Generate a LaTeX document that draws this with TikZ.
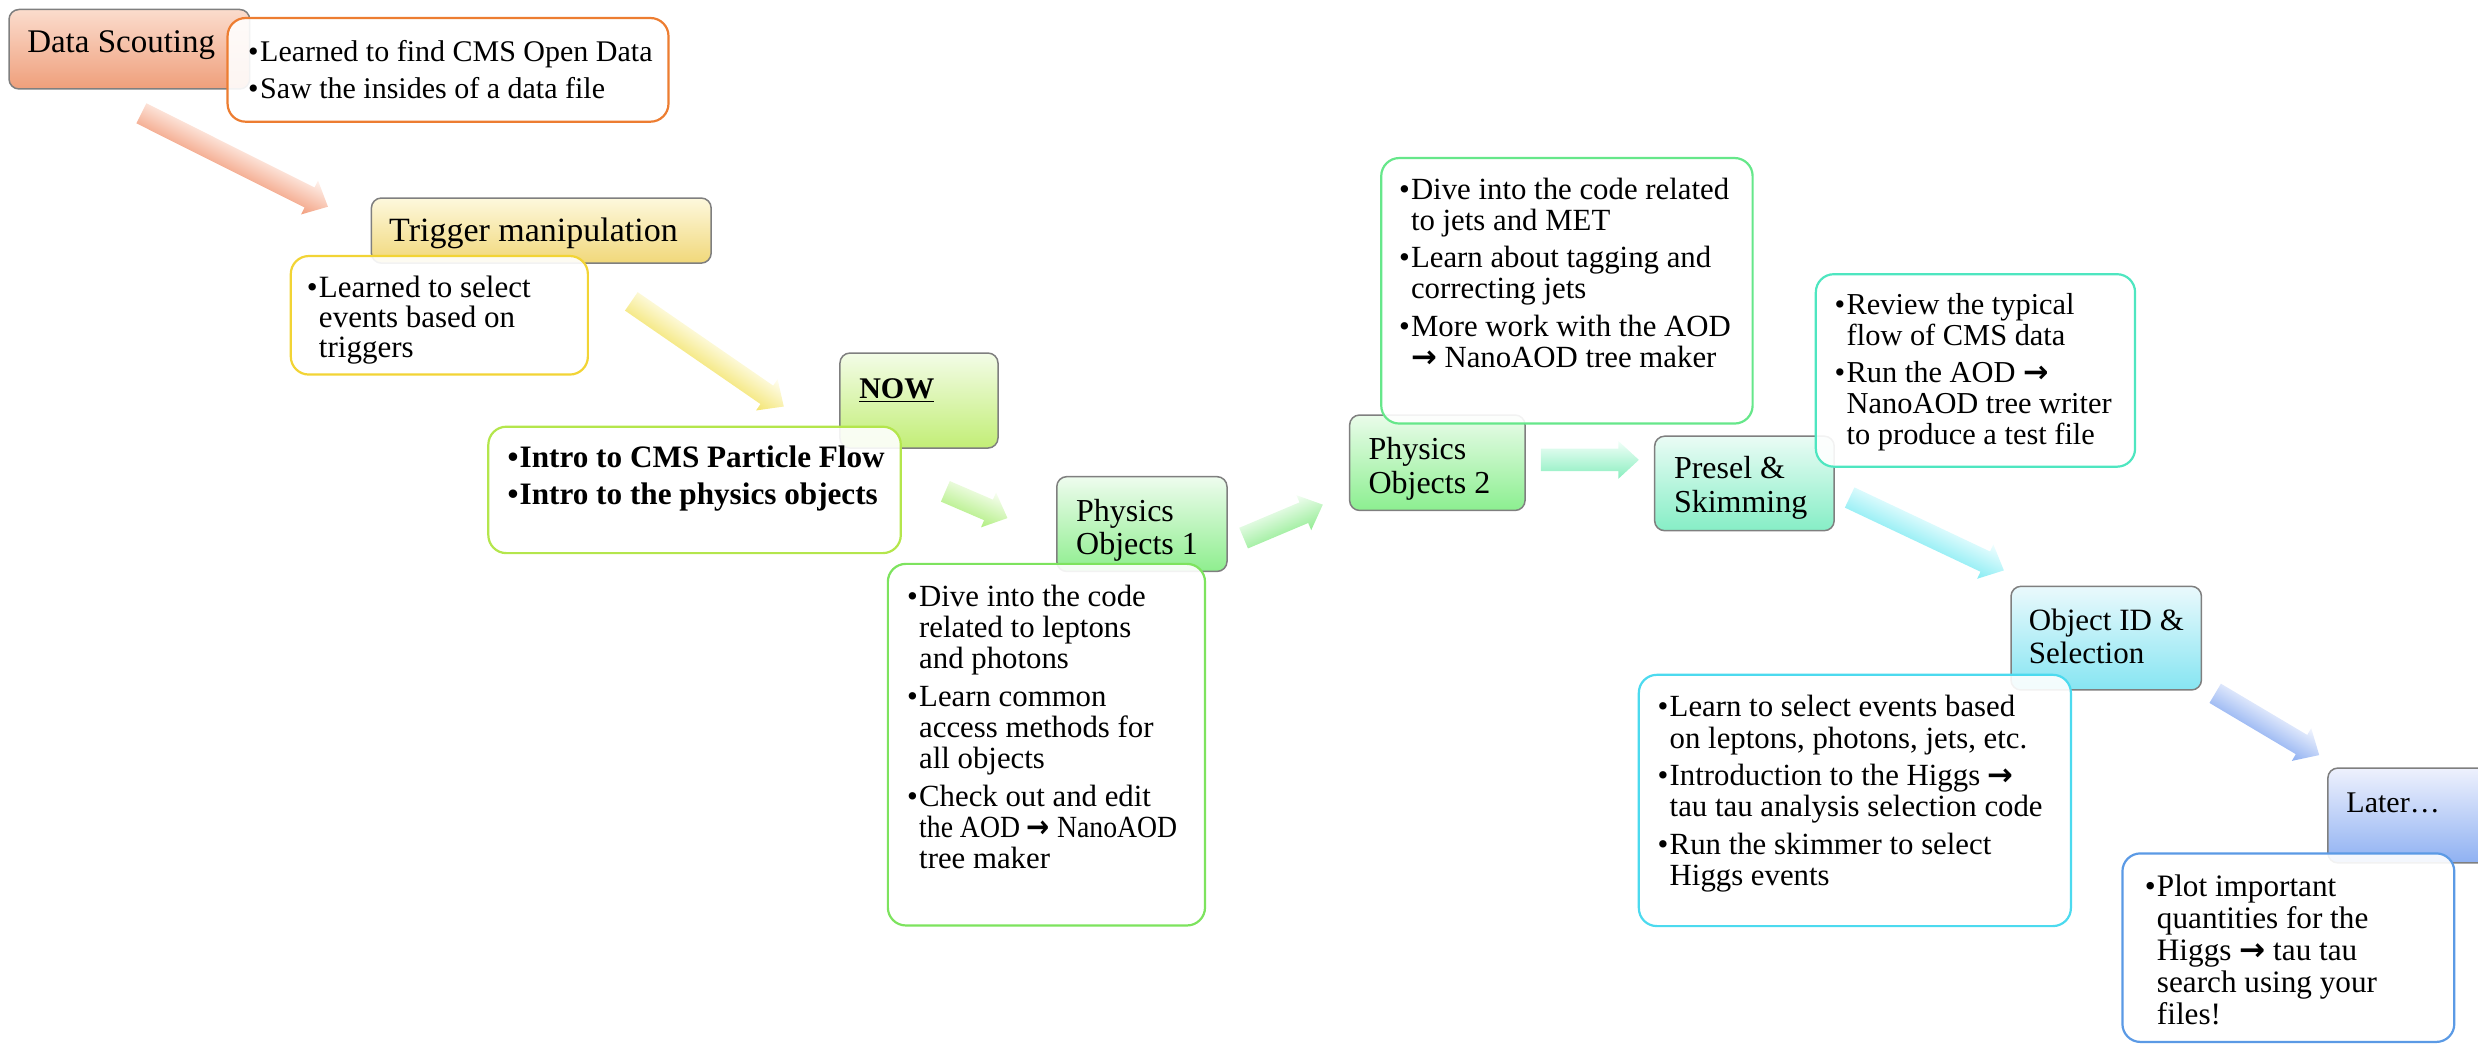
\documentclass[tikz,border=0pt]{standalone}
\usepackage{fontspec}
\setmainfont{Liberation Serif}
\newfontfamily\arrowfont{DejaVu Sans}
\usetikzlibrary{calc,fit}

\definecolor{tbord}{HTML}{7F7F7F}
\definecolor{dsTL}{HTML}{FBDCCD}\definecolor{dsTD}{HTML}{EF9F7B}\definecolor{dsBd}{HTML}{ED7D31}
\definecolor{trTL}{HTML}{FDF8DD}\definecolor{trTD}{HTML}{F1D87A}\definecolor{trBd}{HTML}{F2D435}
\definecolor{nwTL}{HTML}{F3FCE7}\definecolor{nwTD}{HTML}{C2EE76}\definecolor{nwBd}{HTML}{B4E64C}
\definecolor{pOTL}{HTML}{EEFCEE}\definecolor{pOTD}{HTML}{8EEE8E}\definecolor{pOBd}{HTML}{7DE35E}
\definecolor{pTTL}{HTML}{EAFCEA}\definecolor{pTTD}{HTML}{8CEF90}\definecolor{pTBd}{HTML}{66E78A}
\definecolor{psTL}{HTML}{EAFCF5}\definecolor{psTD}{HTML}{86EEC6}\definecolor{psBd}{HTML}{4EE6C0}
\definecolor{oiTL}{HTML}{EAF9FC}\definecolor{oiTD}{HTML}{86E5F2}\definecolor{oiBd}{HTML}{4CDAEF}
\definecolor{ltTL}{HTML}{EEF1FD}\definecolor{ltTD}{HTML}{8FB1F2}\definecolor{ltBd}{HTML}{5B9AE5}
\definecolor{aAL}{HTML}{FFF3EE}\definecolor{aAD}{HTML}{F29E7E}
\definecolor{aBL}{HTML}{FFFEF2}\definecolor{aBD}{HTML}{F3E46E}
\definecolor{aCL}{HTML}{F8FEF2}\definecolor{aCD}{HTML}{B0EE80}
\definecolor{aDL}{HTML}{F4FEF4}\definecolor{aDD}{HTML}{92EC92}
\definecolor{aEL}{HTML}{F2FFF9}\definecolor{aED}{HTML}{88EEBE}
\definecolor{aFL}{HTML}{F0FEFF}\definecolor{aFD}{HTML}{86ECF3}
\definecolor{aGL}{HTML}{F2F5FE}\definecolor{aGD}{HTML}{8CAEF1}

\newlength\bw \setlength\bw{6pt}
\newcommand\bul{\makebox[\bw][l]{•}}
\newcommand\ind{\hspace*{\bw}}
\newcommand\rarr{{\arrowfont\bfseries →}}
\def\shw{5.6pt}
\def\hhw{9.5pt}
\def\hl{10.3}
% #1 start coordinate, #2 canvas angle, #3 length in pt, #4 light colour, #5 dark colour
\newcommand\blockarrow[5]{%
  \pgfmathsetmacro\Lb{#3-\hl}%
  \begin{scope}[transform canvas={shift={(#1)}, rotate=#2}]
    \shade[top color=#4, bottom color=#5]
      (0pt,-\shw) -- (\Lb pt,-\shw) -- (\Lb pt,-\hhw) -- (#3pt,0pt)
      -- (\Lb pt,\hhw) -- (\Lb pt,\shw) -- (0pt,\shw) -- cycle;
  \end{scope}%
}

\begin{document}
\begin{tikzpicture}[x=0.7902pt,y=-0.7902pt,
  txt/.style={anchor=base west, inner sep=0pt},
  titlebox/.style={draw=tbord, line width=0.75pt, rounded corners=5pt, inner sep=0pt},
  bodybox/.style={line width=1.1pt, rounded corners=9pt, fill=white, fill opacity=0.9, inner sep=0pt}]
\useasboundingbox (0,0) rectangle (1568,660);
\clip (0,0) rectangle (1568,660);

% ---------- arrows ----------
\coordinate (a1s) at (89.5,71.7);
\coordinate (a2s) at (399.5,190.7);
\coordinate (a3s) at (598.2,310.9);
\coordinate (a4s) at (786.9,340.5);
\coordinate (a5s) at (975,291);
\coordinate (a6s) at (1170.4,314.8);
\coordinate (a7s) at (1401.7,438.7);
\blockarrow{a1s}{-26.6}{104.3}{aAL}{aAD}
\blockarrow{a2s}{-34.6}{92.6}{aBL}{aBD}
\blockarrow{a3s}{-23.3}{33.8}{aCL}{aCD}
\blockarrow{a4s}{22.9}{43.0}{aDL}{aDD}
\blockarrow{a5s}{0}{49.0}{aEL}{aED}
\blockarrow{a6s}{-25.3}{85.3}{aFL}{aFD}
\blockarrow{a7s}{-30.7}{60.5}{aGL}{aGD}

% ---------- Data Scouting ----------
\node[titlebox, top color=dsTL, bottom color=dsTD, fit={(5.7,6) (158,56.3)}] (dsT) {};
\node[txt] (dsTt) at (17,33.5) {\fontsize{16.5}{19}\selectfont Data Scouting};
\node[bodybox, draw=dsBd, fit={(144,11.4) (423,77)}] (dsB) {};
\node[txt] (dsBt) at (156.8,39) {\parbox[t]{400pt}{\fontsize{15}{18.2}\selectfont
  \bul Learned to find CMS Open Data\\
  \bul Saw the insides of a data file}};

% ---------- Trigger manipulation ----------
\node[titlebox, top color=trTL, bottom color=trTD, fit={(235,125.3) (450,166.5)}] (trT) {};
\node[txt] (trTt) at (246,153) {\fontsize{17}{19}\selectfont Trigger manipulation};
\node[bodybox, draw=trBd, fit={(184,162) (372,237)}] (trB) {};
\node[txt] (trBt) at (194,188) {\parbox[t]{400pt}{\fontsize{15.5}{15.1}\selectfont
  \bul Learned to select\\
  \ind events based on\\
  \ind triggers}};

% ---------- NOW ----------
\node[titlebox, top color=nwTL, bottom color=nwTD, fit={(531.5,223.4) (631.5,283.5)}] (nwT) {};
\node[txt] (nwTt) at (543.5,252) {\fontsize{15}{18}\selectfont\bfseries\underline{NOW}};
\node[bodybox, draw=nwBd, fit={(309,270) (570,350)}] (nwB) {};
\node[txt] (nwBt) at (321,295.5) {\parbox[t]{400pt}{\fontsize{15.6}{18.6}\selectfont\bfseries
  \bul Intro to CMS Particle Flow\\
  \bul Intro to the physics objects}};

% ---------- Physics Objects 1 ----------
\node[titlebox, top color=pOTL, bottom color=pOTD, fit={(668.7,301.6) (776.4,361.6)}] (p1T) {};
\node[txt] (p1Tt) at (680.7,329.7) {\parbox[t]{200pt}{\fontsize{16}{16.6}\selectfont
  Physics\\Objects 1}};
\node[bodybox, draw=pOBd, fit={(561.8,356.8) (762.5,585.6)}] (p1B) {};
\node[txt] (p1Bt) at (573.8,383.5) {\parbox[t]{400pt}{\fontsize{15.4}{15.7}\selectfont
  \bul Dive into the code\\
  \ind related to leptons\\
  \ind and photons\\[2.9pt]
  \bul Learn common\\
  \ind access methods for\\
  \ind all objects\\[2.9pt]
  \bul Check out and edit\\
  \ind\scalebox{0.9}[1]{the AOD \rarr{} NanoAOD}\\
  \ind tree maker}};

% ---------- Physics Objects 2 ----------
\node[titlebox, top color=pTTL, bottom color=pTTD, fit={(854,262.6) (965,323)}] (p2T) {};
\node[bodybox, draw=pTBd, fit={(874,100) (1109,268)}] (p2B) {};
\node[txt] (p2Tt) at (865.7,290.6) {\parbox[t]{200pt}{\fontsize{16}{16.9}\selectfont
  Physics\\Objects 2}};
\node[txt] (p2Bt) at (885,126) {\parbox[t]{400pt}{\fontsize{15.4}{15.6}\selectfont
  \bul Dive into the code related\\
  \ind to jets and MET\\[3.1pt]
  \bul Learn about tagging and\\
  \ind correcting jets\\[3.1pt]
  \bul More work with the AOD\\
  \ind\rarr{} NanoAOD tree maker}};

% ---------- Presel & Skimming ----------
\node[titlebox, top color=psTL, bottom color=psTD, fit={(1047,276) (1160.6,335.8)}] (psT) {};
\node[txt] (psTt) at (1059,302.6) {\parbox[t]{200pt}{\fontsize{16}{17.2}\selectfont
  Presel \&\\Skimming}};
\node[bodybox, draw=psBd, fit={(1149,173.5) (1351,295.3)}] (psB) {};
\node[txt] (psBt) at (1160.7,198.7) {\parbox[t]{400pt}{\fontsize{15.2}{15.5}\selectfont
  \bul Review the typical\\
  \ind flow of CMS data\\[3.1pt]
  \bul Run the AOD \rarr\\
  \ind NanoAOD tree writer\\
  \ind to produce a test file}};

% ---------- Object ID & Selection ----------
\node[titlebox, top color=oiTL, bottom color=oiTD, fit={(1272.5,371) (1393,436.6)}] (oiT) {};
\node[txt] (oiTt) at (1283.6,399) {\parbox[t]{200pt}{\fontsize{15.5}{16.6}\selectfont
  Object ID \&\\Selection}};
\node[bodybox, draw=oiBd, fit={(1037,427) (1310.4,586)}] (oiB) {};
\node[txt] (oiBt) at (1048.7,453.5) {\parbox[t]{400pt}{\fontsize{15.4}{15.7}\selectfont
  \bul Learn to select events based\\
  \ind on leptons, photons, jets, etc.\\[3pt]
  \bul Introduction to the Higgs \rarr\\
  \ind tau tau analysis selection code\\[3pt]
  \bul Run the skimmer to select\\
  \ind Higgs events}};

% ---------- Later ----------
\node[titlebox, top color=ltTL, bottom color=ltTD, fit={(1473,486) (1600,546)}] (ltT) {};
\node[txt] (ltTt) at (1484.5,514) {\fontsize{15}{18}\selectfont Later…};
\node[bodybox, draw=ltBd, fit={(1343,540) (1553,659.3)}] (ltB) {};
\node[txt] (ltBt) at (1357,567.5) {\parbox[t]{400pt}{\fontsize{15.6}{16}\selectfont
  \bul Plot important\\
  \ind quantities for the\\
  \ind Higgs \rarr{} tau tau\\
  \ind search using your\\
  \ind files!}};
\end{tikzpicture}
\end{document}
